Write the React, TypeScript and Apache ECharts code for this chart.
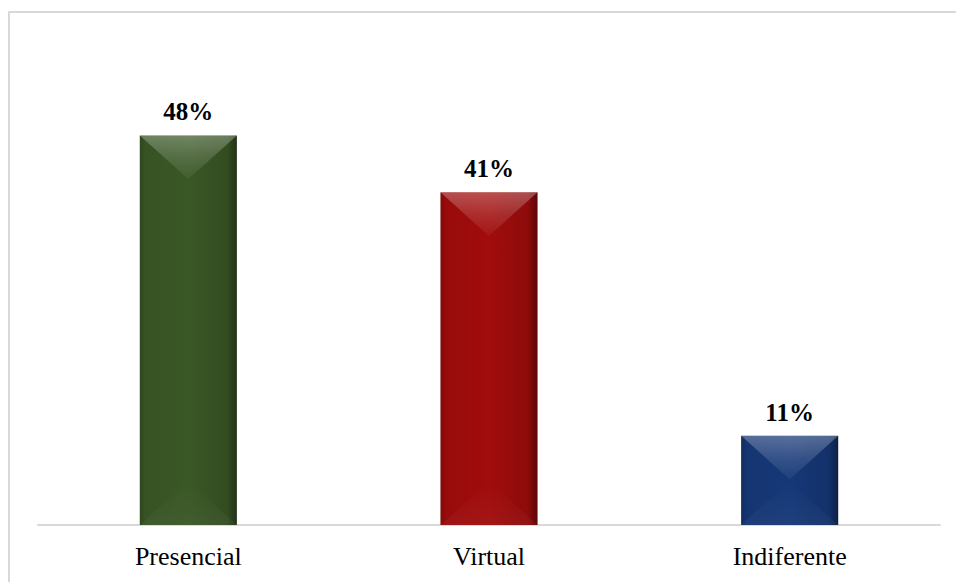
import React, { useEffect, useRef } from "react";
import * as echarts from "echarts";

const categories = ["Presencial", "Virtual", "Indiferente"];
const values = [48, 41, 11];
const baseColors = ["#3a5726", "#a10c0c", "#163878"];

function shade(hex: string, f: number): string {
  const n = parseInt(hex.slice(1), 16);
  let r = (n >> 16) & 255, g = (n >> 8) & 255, b = n & 255;
  const adj = (c: number) =>
    Math.max(0, Math.min(255, Math.round(f >= 0 ? c + (255 - c) * f : c * (1 + f))));
  r = adj(r); g = adj(g); b = adj(b);
  return "#" + ((1 << 24) + (r << 16) + (g << 8) + b).toString(16).slice(1);
}

const SERIF = "Liberation Serif, Times New Roman, serif";

export default function App() {
  const ref = useRef<HTMLDivElement>(null);
  useEffect(() => {
    if (!ref.current) return;
    const chart = echarts.init(ref.current, null, { renderer: "svg" });
    const option: any = {
      animation: false,
      backgroundColor: "#ffffff",
      grid: { left: 38, right: 16, top: 38, bottom: 57, containLabel: false },
      xAxis: {
        type: "category",
        data: categories,
        axisTick: { show: false },
        axisLine: { show: true, lineStyle: { color: "#d9d9d9", width: 2 } },
        axisLabel: { color: "#000", fontSize: 26, fontFamily: SERIF, margin: 18 },
      },
      yAxis: { type: "value", min: 0, max: 60, show: false, splitLine: { show: false } },
      graphic: [
        {
          type: "rect",
          shape: { x: 9, y: 12, width: 1200, height: 1200 },
          style: { fill: "none", stroke: "#d9d9d9", lineWidth: 2 },
          silent: true,
        },
      ],
      series: [
        {
          type: "custom",
          data: values.map((v, i) => [i, v]),
          renderItem: (params: any, api: any) => {
            const idx = api.value(0);
            const val = api.value(1);
            const top = api.coord([idx, val]);
            const bot = api.coord([idx, 0]);
            const bw = api.size([1, 0])[0] * 0.323;
            const cx = top[0];
            const x0 = cx - bw / 2, x1 = cx + bw / 2;
            const y0 = top[1], y1 = bot[1];
            const h = y1 - y0;
            const d = Math.min(bw * 0.45, h / 2);
            const base = baseColors[idx];
            const stops = (arr: [number, string][]) => arr.map(([o, c]) => ({ offset: o, color: c }));
            return {
              type: "group",
              children: [
                {
                  type: "rect",
                  shape: { x: x0, y: y0, width: bw, height: h },
                  style: {
                    fill: {
                      type: "linear", x: 0, y: 0, x2: 1, y2: 0,
                      colorStops: stops([
                        [0, shade(base, -0.2)],
                        [0.06, shade(base, -0.05)],
                        [0.5, base],
                        [0.9, shade(base, -0.12)],
                        [1, shade(base, -0.42)],
                      ]),
                    },
                  },
                },
                {
                  type: "polygon",
                  shape: { points: [[x0, y0], [x1, y0], [cx, y0 + d]] },
                  style: {
                    fill: {
                      type: "linear", x: 0, y: 0, x2: 0, y2: 1,
                      colorStops: stops([
                        [0, "rgba(255,255,255,0.28)"],
                        [0.5, "rgba(255,255,255,0.14)"],
                        [1, "rgba(255,255,255,0.04)"],
                      ]),
                    },
                  },
                },
                {
                  type: "polygon",
                  shape: { points: [[x0, y1], [x1, y1], [cx, y1 - d]] },
                  style: {
                    fill: {
                      type: "linear", x: 0, y: 0, x2: 0, y2: 1,
                      colorStops: stops([
                        [0, "rgba(255,255,255,0.0)"],
                        [1, "rgba(255,255,255,0.04)"],
                      ]),
                    },
                  },
                },
                {
                  type: "text",
                  style: {
                    text: val + "%",
                    x: cx,
                    y: y0 - 11,
                    align: "center",
                    verticalAlign: "bottom",
                    fill: "#000",
                    fontFamily: SERIF,
                    fontWeight: "bold",
                    fontSize: 25,
                  },
                },
              ],
            };
          },
        },
      ],
    };
    chart.setOption(option);
    return () => chart.dispose();
  }, []);
  return (
    <div
      ref={ref}
      style={{ position: "absolute", left: 0, top: 0, width: 956, height: 582 }}
    />
  );
}
